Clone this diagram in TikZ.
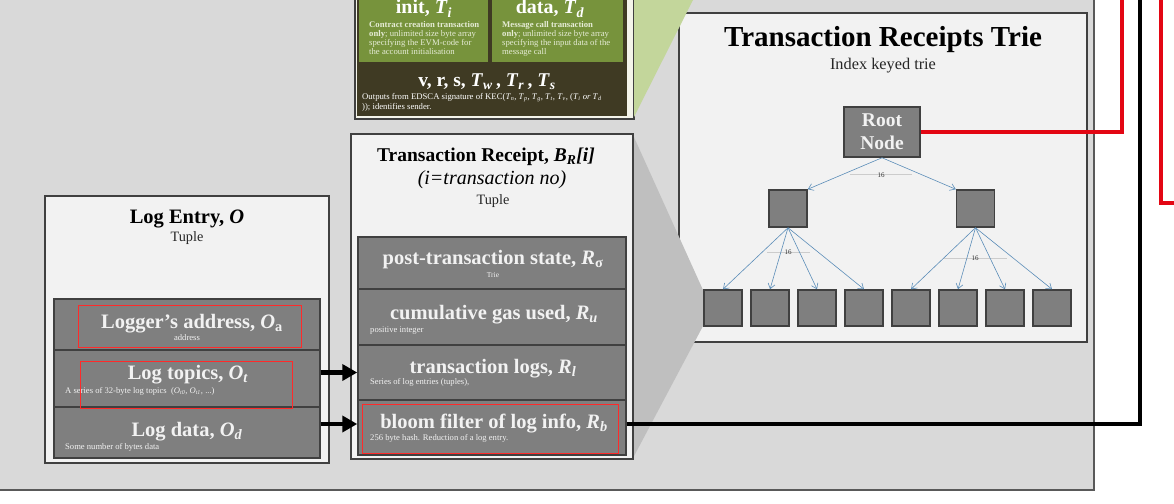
\documentclass[tikz,border=0pt]{standalone}
\usepackage{fontspec}
\setmainfont{Liberation Serif}
\usetikzlibrary{arrows.meta}
\definecolor{panelgray}{HTML}{D9D9D9}
\definecolor{paneledge}{HTML}{595959}
\definecolor{boxfill}{HTML}{F2F2F2}
\definecolor{edge}{HTML}{404040}
\definecolor{cellgray}{HTML}{7F7F7F}
\definecolor{olive}{HTML}{77933C}
\definecolor{darkolive}{HTML}{3F3A23}
\definecolor{lightgreen}{HTML}{C3D69B}
\definecolor{trapgray}{HTML}{BFBFBF}
\definecolor{redline}{HTML}{E30613}
\definecolor{annot}{HTML}{FF2A2A}
\definecolor{trieblue}{HTML}{5B8DB8}
\definecolor{notegreen}{HTML}{E6ECD6}
\definecolor{framefill}{HTML}{F4F4EA}
\newcommand{\iv}[2]{\textit{#1}\textsubscript{\textit{#2}}}
\tikzset{
  box/.style={draw=edge, fill=boxfill, line width=1.5pt, inner sep=0pt},
  cell/.style={draw=edge, fill=cellgray, line width=1.5pt, inner sep=0pt},
  trienode/.style={draw=edge, fill=cellgray, line width=1.5pt, inner sep=0pt},
  leafnode/.style={trienode, minimum width=38pt, minimum height=36pt},
  celltitle/.style={font=\bfseries\fontsize{20.5}{22}\selectfont, text=boxfill, anchor=base, inner sep=0pt},
  cellnote/.style={font=\fontsize{8.6}{9.5}\selectfont, text=boxfill, anchor=base west, inner sep=0pt},
  cellnotec/.style={cellnote, anchor=base},
  boxtitle/.style={font=\bfseries\fontsize{20.5}{22}\selectfont, text=black, anchor=base, inner sep=0pt},
  boxsub/.style={font=\fontsize{14.3}{16}\selectfont, text=black!85, anchor=base, inner sep=0pt},
  greentitle/.style={font=\bfseries\fontsize{20}{22}\selectfont, text=white, anchor=base, inner sep=0pt},
  greennote/.style={font=\fontsize{8.7}{9.2}\selectfont, text=notegreen, anchor=north west, align=left, inner sep=0pt},
  tarr/.style={draw=trieblue, line width=0.6pt, -{Straight Barb[length=5pt,width=7pt]}},
  fatarr/.style={draw=black, line width=4.5pt, -{Triangle[length=15pt,width=16pt]}},
  fatline/.style={line width=4.5pt, line join=miter},
  annotbox/.style={draw=annot, line width=1pt},
  tlabel/.style={font=\fontsize{7}{8}\selectfont, text=black!80, inner sep=1pt},
  tline/.style={draw=black!20, line width=0.5pt}
}
\begin{document}
\begin{tikzpicture}[x=1pt,y=-1pt]
\useasboundingbox (0,0) rectangle (1174,503);
\clip (0,0) rectangle (1174,503);
\fill[white] (0,0) rectangle (1174,503);
% main panel
\draw[fill=panelgray, draw=paneledge, line width=1.5pt] (-10,-10) rectangle (1094,490);

% transaction (top) box
\node[draw=edge, fill=framefill, line width=1.5pt, minimum width=279pt, minimum height=129pt, inner sep=0pt] (txframe) at (494.5,54.5) {};
\node[fill=darkolive, minimum width=270pt, minimum height=126pt, inner sep=0pt] (vrs) at (492,53) {};
\node[fill=olive, minimum width=129pt, minimum height=72pt, inner sep=0pt] (initcell) at (423.5,26) {};
\node[fill=olive, minimum width=131pt, minimum height=72pt, inner sep=0pt] (datacell) at (557.5,26) {};
\node[greentitle] (inittitle) at (424,14) {init, \iv{T}{i}};
\node[greentitle] (datatitle) at (550,14) {data, \iv{T}{d}};
\node[greennote] (initnote) at (369,21) {\textbf{Contract creation transaction}\\\textbf{only}; unlimited size byte array\\specifying the EVM-code for\\the account initialisation};
\node[greennote] (datanote) at (502,21) {\textbf{Message call transaction}\\\textbf{only}; unlimited size byte array\\specifying the input data of the\\message call};
\node[greentitle, font=\bfseries\fontsize{19.5}{22}\selectfont] (vrstitle) at (487,86) {v, r, s, \iv{T}{w}\,, \iv{T}{r}\,, \iv{T}{s}};
\node[greennote, text=white] (vrsnote) at (362,93.5) {Outputs from EDSCA signature of KEC(\iv{T}{n}, \iv{T}{p}, \iv{T}{g}, \iv{T}{t}, \iv{T}{v}, (\iv{T}{i} \textit{or} \iv{T}{d}\\)); identifies sender.};

% trie box
\node[box, minimum width=408pt, minimum height=329pt] (triebox) at (883,177.5) {};
\node[boxtitle, font=\bfseries\fontsize{29}{31}\selectfont] (trietitle) at (883,47) {Transaction Receipts Trie};
\node[boxsub, font=\fontsize{16.3}{18}\selectfont] (triesub) at (883,70) {Index keyed trie};

% green wedge and grey wedge
\fill[lightgreen] (634,-2) -- (694,-2) -- (634,117) -- cycle;
\fill[trapgray] (633,135) -- (703,290) -- (703,326) -- (633,458) -- cycle;

% trie nodes
\node[trienode, minimum width=76pt, minimum height=50pt, align=center, font=\bfseries\fontsize{19.5}{23}\selectfont, text=boxfill] (root) at (882,132) {Root\\Node};
\node[trienode, minimum width=38pt, minimum height=37pt] (m1) at (788,208.5) {};
\node[trienode, minimum width=38pt, minimum height=37pt] (m2) at (975.5,208.5) {};
\foreach \i/\x in {1/723,2/770,3/817,4/864,5/911,6/958,7/1005,8/1052}
  \node[leafnode] (f\i) at (\x,308) {};
\draw[tline] (850,174) -- (912,174);
\draw[tline] (767,252) -- (810,252);
\draw[tline] (943,258) -- (1007,258);
\draw[tarr] (root.south) -- (m1.north east);
\draw[tarr] (root.south) -- (m2.north west);
\foreach \i in {1,...,4} \draw[tarr] (m1.south) -- (f\i.north);
\foreach \i in {5,...,8} \draw[tarr] (m2.south) -- (f\i.north);
\node[tlabel] (lab1) at (881,175) {16};
\node[tlabel] (lab2) at (788,252) {16};
\node[tlabel] (lab3) at (975,258) {16};

% transaction receipt box
\node[box, minimum width=282pt, minimum height=325pt] (rcpt) at (492,296.5) {};
\node[boxtitle, font=\bfseries\fontsize{19.5}{22}\selectfont] (rcpttitle) at (486,161) {Transaction Receipt, \iv{B}{R}\textit{[i]}};
\node[boxtitle, font=\itshape\fontsize{20}{22}\selectfont] (rcptsub) at (492,184) {(i=transaction no)};
\node[boxsub] (rcpttuple) at (493,204) {Tuple};
\node[cell, minimum width=268pt, minimum height=52pt] (ps) at (492,263) {};
\node[cell, minimum width=268pt, minimum height=56pt] (cg) at (492,317) {};
\node[cell, minimum width=268pt, minimum height=55pt] (tl) at (492,372.5) {};
\node[cell, minimum width=268pt, minimum height=55pt] (bf) at (492,427.5) {};
\node[celltitle] (pst) at (493,264) {post-transaction state, \textit{R}\textsubscript{σ}};
\node[cellnotec, font=\fontsize{7.5}{8}\selectfont] (psn) at (493,277) {Trie};
\node[celltitle] (cgt) at (494,319) {cumulative gas used, \iv{R}{u}};
\node[cellnote] (cgn) at (370,332) {positive integer};
\node[celltitle] (tlt) at (493,373) {transaction logs, \iv{R}{l}};
\node[cellnote] (tln) at (370,384) {Series of log entries (tuples),};
\node[celltitle] (bft) at (494,428) {bloom filter of log info, \iv{R}{b}};
\node[cellnote] (bfn) at (370,440) {256 byte hash. Reduction of a log entry.};

% log entry box
\node[box, minimum width=284pt, minimum height=267pt] (logbox) at (187,329.5) {};
\node[boxtitle] (logtitle) at (187,223) {Log Entry, \textit{O}};
\node[boxsub] (logtuple) at (187,241) {Tuple};
\node[cell, minimum width=266pt, minimum height=51pt] (la) at (187,324.5) {};
\node[cell, minimum width=266pt, minimum height=57pt] (lt) at (187,378.5) {};
\node[cell, minimum width=266pt, minimum height=51pt] (ld) at (187,432.5) {};
\node[celltitle] (lat) at (192,328) {Logger’s address, \textit{O}\textsubscript{a}};
\node[cellnotec] (lan) at (187,340) {address};
\node[celltitle] (ltt) at (188,379) {Log topics, \iv{O}{t}};
\node[cellnote] (ltn) at (65,393) {A series of 32-byte log topics\ \ (\iv{O}{t0}, \iv{O}{t1}, ...)};
\node[celltitle] (ldt) at (187,436) {Log data, \iv{O}{d}};
\node[cellnote] (ldn) at (65,449) {Some number of bytes data};

% red annotation boxes
\node[annotbox, minimum width=223pt, minimum height=42pt, inner sep=0pt] (ann1) at (189.5,326) {};
\node[annotbox, minimum width=212pt, minimum height=47pt, inner sep=0pt] (ann2) at (186,384.5) {};
\node[annotbox, minimum width=256pt, minimum height=49pt, inner sep=0pt] (ann3) at (490,428.5) {};

% connectors
\coordinate (blacktop) at (1140,-10);
\coordinate (redtop) at (1122,-10);
\coordinate (red2top) at (1161,-10);
\coordinate (red2end) at (1185,203);
\draw[fatarr] (lt.east |- tl.west) -- (tl.west);
\draw[fatarr] (ld.east |- 0,424) -- (bf.west |- 0,424);
\draw[fatline, black] (bf.east |- 0,424) -| (blacktop);
\draw[fatline, redline] (root.east) -| (redtop);
\draw[fatline, redline] (red2top) |- (red2end);
\end{tikzpicture}
\end{document}
